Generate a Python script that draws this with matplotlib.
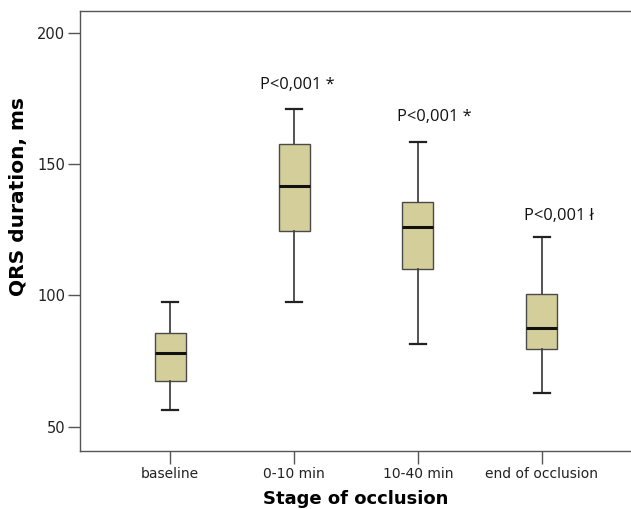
import matplotlib
matplotlib.use("Agg")
import matplotlib.pyplot as plt

# QRS duration (ms) by stage of occlusion: box plot summary statistics
stages = ["baseline", "0-10 min", "10-40 min", "end of occlusion"]
whisker_low = [56.4, 97.6, 81.4, 63.0]
q1 = [67.5, 124.4, 109.9, 79.6]
median = [78.2, 141.6, 126.0, 87.5]
q3 = [85.8, 157.7, 135.4, 100.4]
whisker_high = [97.5, 171.0, 158.5, 122.3]

# significance labels above the boxes
p_labels = ["", "P<0,001 *", "P<0,001 *", "P<0,001 ł"]
p_label_x = [0.0, 1.03, 2.13, 3.14]
p_label_y = [0.0, 180.1, 168.0, 130.2]

y_ticks = [50, 100, 150, 200]

fig = plt.figure(figsize=(6.31, 5.09), dpi=100)
ax = fig.add_axes([80 / 631, (509 - 450.7) / 509, 552 / 631, (450.7 - 11) / 509])

stats = []
for i, name in enumerate(stages):
    stats.append(dict(label=name, whislo=whisker_low[i], q1=q1[i], med=median[i],
                      q3=q3[i], whishi=whisker_high[i], fliers=[]))

ax.bxp(stats, positions=range(len(stages)), widths=0.25, patch_artist=True,
       showfliers=False,
       boxprops=dict(facecolor="#D4CF9A", edgecolor="#4a4a4a", linewidth=1.0),
       medianprops=dict(color="#111111", linewidth=2.2),
       whiskerprops=dict(color="#444444", linewidth=1.3),
       capprops=dict(color="#222222", linewidth=1.6),
       capwidths=0.125)

for x, y, t in zip(p_label_x, p_label_y, p_labels):
    if t:
        ax.text(x, y, t, ha="center", va="center", fontsize=11.8,
                family=["Open Sans", "DejaVu Sans"], color="#111111")

ax.set_xlim(-0.726, 3.726)
ax.set_ylim(40.9, 208.3)
ax.set_yticks(y_ticks)
ax.set_xticks(range(len(stages)))
ax.set_xticklabels(stages)

for side in ["left", "bottom", "top"]:
    ax.spines[side].set_color("#555555")
    ax.spines[side].set_linewidth(1.0)
ax.spines["right"].set_visible(False)

ax.tick_params(axis="y", length=9, width=1.0, color="#555555", labelsize=10.5,
               labelcolor="#222222", pad=1.5)
ax.tick_params(axis="x", length=9, width=1.0, color="#555555", labelsize=10,
               labelcolor="#222222", pad=3)

ax.set_xlabel("Stage of occlusion", fontsize=13, fontweight="bold", labelpad=6)
ax.set_ylabel("QRS duration, ms", fontsize=14.5, fontweight="bold")
ax.yaxis.set_label_coords(-0.094, 0.577)

fig.savefig("out.png", dpi=100)
